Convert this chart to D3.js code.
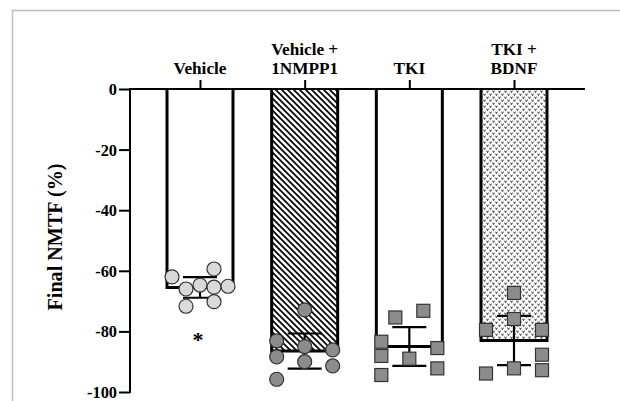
<!DOCTYPE html>
<html>
<head>
<meta charset="utf-8">
<script src="https://cdn.jsdelivr.net/npm/d3@7/dist/d3.min.js"></script>
<style>
  html, body { margin: 0; padding: 0; background: #fff; }
  svg { display: block; }
  text { font-family: "Liberation Serif", "Times New Roman", serif; font-weight: bold; fill: #000; }
</style>
</head>
<body>
<svg id="chart" width="620" height="401"></svg>
<script>
// ---- data ----
const categories = ["Vehicle", "Vehicle + 1NMPP1", "TKI", "TKI + BDNF"];
const categoryLines = [["Vehicle"], ["Vehicle +", "1NMPP1"], ["TKI"], ["TKI +", "BDNF"]];
const means = [-65.5, -86.5, -85.0, -83.0];
const errors = [3.4, 5.8, 6.4, 8.1];
const vehiclePoints = [-62.0, -59.4, -66.0, -64.7, -65.4, -65.1, -71.7, -70.2];
const nmppPoints = [-72.9, -83.1, -85.0, -86.1, -88.4, -90.0, -91.4, -95.8];
const tkiPoints = [-75.4, -73.2, -83.4, -88.1, -89.0, -85.5, -92.2, -94.4];
const bdnfPoints = [-67.3, -75.9, -79.5, -79.5, -87.7, -92.2, -92.8, -93.9];
const yTicks = [0, -20, -40, -60, -80, -100];
const yLabel = "Final NMTF (%)";
const significance = ["*", "", "", ""];

// ---- layout (not data) ----
const jitterColumns = [
  [-2, 1, -1, 0, 1, 2, -1, 1],
  [0, -2, 0, 2, -2, 0, 2, -2],
  [-1, 1, -2, -2, 0, 2, 2, -2],
  [0, 0, -2, 2, 2, 0, 2, -2]
];
const pointSets = [vehiclePoints, nmppPoints, tkiPoints, bdnfPoints];

const svg = d3.select("#chart");
const defs = svg.append("defs");

function fitSize(text, baseSize, target) {
  const t = svg.append("text").attr("font-size", baseSize).text(text);
  const w = t.node().getComputedTextLength();
  t.remove();
  return w > 0 ? baseSize * target / w : baseSize;
}
const catSize = fitSize("Vehicle", 17, 53);
const tickSize = fitSize("-100", 17, 30);
const labelSize = Math.max(20, fitSize(yLabel, 20, 147));

// hatch pattern
const hatch = defs.append("pattern").attr("id", "hatch")
  .attr("patternUnits", "userSpaceOnUse").attr("width", 6).attr("height", 6);
hatch.append("rect").attr("width", 6).attr("height", 6).attr("fill", "#fff");
hatch.append("path").attr("d", "M-1,-1 L7,7 M5,-1 L7,1 M-1,5 L1,7")
  .attr("stroke", "#000").attr("stroke-width", 1.7);

// stipple pattern
const dots = defs.append("pattern").attr("id", "dots")
  .attr("patternUnits", "userSpaceOnUse").attr("width", 6).attr("height", 6);
dots.append("rect").attr("width", 6).attr("height", 6).attr("fill", "#fff");
dots.append("path").attr("d", "M0.2,0.6 L1.5,2.3 L2.8,0.6 M3.2,3.6 L4.5,5.3 L5.8,3.6")
  .attr("stroke", "#808080").attr("stroke-width", 1.1).attr("fill", "none");
dots.append("rect").attr("x", 1).attr("y", 1.5).attr("width", 1).attr("height", 1).attr("fill", "#333");
dots.append("rect").attr("x", 4).attr("y", 4.5).attr("width", 1).attr("height", 1).attr("fill", "#444");

const fills = ["#fff", "url(#hatch)", "#fff", "url(#dots)"];
const pointFill = ["#d9d9d9", "#8c8c8c", "#8c8c8c", "#8c8c8c"];
const pointShape = ["circle", "circle", "square", "square"];

// frame
svg.append("path").attr("d", "M620,10.5 H12.5 V401")
  .attr("fill", "none").attr("stroke", "#bdbdbd").attr("stroke-width", 1.5);

const x = d3.scalePoint().domain(categories).range([200, 514]);
const y = d3.scaleLinear().domain([0, -100]).range([89, 392]);
const barW = 66;
const slot = 14;

// bars
const g = svg.append("g");
categories.forEach((c, i) => {
  const cx = x(c);
  g.append("rect").attr("x", cx - barW / 2).attr("y", y(0))
    .attr("width", barW).attr("height", y(means[i]) - y(0))
    .attr("fill", fills[i]);
  g.append("path")
    .attr("d", `M${cx - barW / 2},${y(0)} V${y(means[i])} H${cx + barW / 2} V${y(0)}`)
    .attr("fill", "none").attr("stroke", "#000").attr("stroke-width", 3)
    .attr("stroke-linejoin", "miter");
});

// error bars
categories.forEach((c, i) => {
  const cx = x(c);
  const lo = means[i] - errors[i], hi = means[i] + errors[i];
  const eg = g.append("g").attr("stroke", "#000").attr("stroke-width", 2.2);
  eg.append("line").attr("x1", cx).attr("x2", cx).attr("y1", y(hi)).attr("y2", y(lo));
  eg.append("line").attr("x1", cx - 17).attr("x2", cx + 17).attr("y1", y(hi)).attr("y2", y(hi));
  eg.append("line").attr("x1", cx - 17).attr("x2", cx + 17).attr("y1", y(lo)).attr("y2", y(lo));
});

// points
categories.forEach((c, i) => {
  const cx = x(c);
  pointSets[i].forEach((v, j) => {
    const px = cx + jitterColumns[i][j] * slot;
    const py = y(v);
    if (pointShape[i] === "circle") {
      g.append("circle").attr("cx", px).attr("cy", py).attr("r", 7)
        .attr("fill", pointFill[i]).attr("stroke", "#333").attr("stroke-width", 1.2);
    } else {
      g.append("rect").attr("x", px - 6.5).attr("y", py - 6.5)
        .attr("width", 13).attr("height", 13)
        .attr("fill", pointFill[i]).attr("stroke", "#333").attr("stroke-width", 1.2);
    }
  });
});

// significance marks
categories.forEach((c, i) => {
  if (!significance[i]) return;
  svg.append("text").attr("x", x(c) - 2).attr("y", y(-85.3))
    .attr("text-anchor", "middle").attr("font-size", 22).text(significance[i]);
});

// y axis
const yAxis = svg.append("g").attr("transform", "translate(130,0)")
  .call(d3.axisLeft(y).tickValues(yTicks).tickSize(11).tickPadding(2).tickFormat(d => String(d)));
yAxis.select(".domain").attr("stroke", "#000").attr("stroke-width", 2)
  .attr("d", `M0,${y(-100) + 1}V${y(0)}`);
yAxis.selectAll(".tick line").attr("stroke", "#000").attr("stroke-width", 2);
yAxis.selectAll(".tick text").attr("font-size", tickSize).attr("font-family", "Liberation Serif")
  .attr("font-weight", "bold").attr("fill", "#000").attr("dy", "0.34em");

// x axis (top, at zero)
const xAxis = svg.append("g").attr("transform", `translate(0,${y(0)})`)
  .call(d3.axisTop(x).tickSize(9).tickFormat(""));
xAxis.select(".domain").attr("stroke", "#000").attr("stroke-width", 2)
  .attr("d", "M129,0H585");
xAxis.selectAll(".tick line").attr("stroke", "#000").attr("stroke-width", 2);

// category labels
categories.forEach((c, i) => {
  const lines = categoryLines[i];
  const t = svg.append("text").attr("text-anchor", "middle").attr("font-size", catSize);
  lines.forEach((ln, k) => {
    t.append("tspan").attr("x", x(c))
      .attr("y", 74 - (lines.length - 1 - k) * 19).text(ln);
  });
});

// y label
svg.append("text").attr("transform", "translate(62,237) rotate(-90)")
  .attr("text-anchor", "middle").attr("font-size", labelSize)
  .attr("textLength", 147).attr("lengthAdjust", "spacingAndGlyphs").text(yLabel);
</script>
</body>
</html>
